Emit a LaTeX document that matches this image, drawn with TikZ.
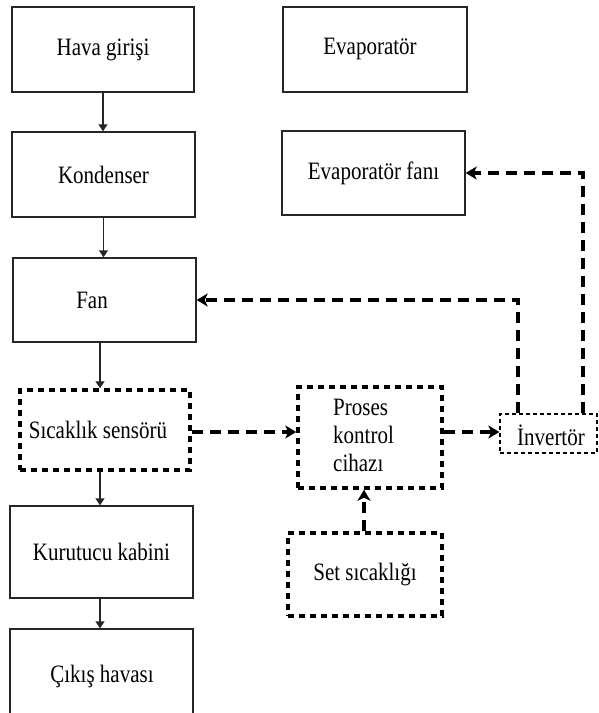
\documentclass[tikz,border=0pt]{standalone}
\usepackage{fontspec}
\setmainfont{Liberation Serif}[FakeStretch=0.84]
\usetikzlibrary{arrows.meta}
\begin{document}
\begin{tikzpicture}[x=1pt,y=-1pt,
  font=\fontsize{25}{28}\selectfont,
  box/.style={draw=black!85, line width=1.4pt, inner sep=0pt, anchor=center},
  dotbox/.style={draw=black, line width=3.5pt, dash pattern=on 6pt off 5pt, inner sep=0pt, anchor=center},
  thinbox/.style={draw=black, line width=1.3pt, dash pattern=on 4pt off 3pt, inner sep=0pt, anchor=center},
  txt/.style={inner sep=0pt, anchor=center},
  solidarrow/.style={draw=black!85, line width=1.4pt, -{Triangle[length=7pt,width=9pt]}},
  dasharrow/.style={draw=black, line width=4pt, dash pattern=on 11pt off 7pt, -{Stealth[length=11pt,width=13pt,inset=3pt]}}
]
\clip (0,0) rectangle (598,713);
% boxes
\node[box, minimum width=182pt, minimum height=85pt] (hava) at (103,49.5) {Hava girişi};
\node[box, minimum width=183pt, minimum height=85pt] (kond) at (103.5,174.5) {Kondenser};
\node[box, minimum width=184pt, minimum height=85pt] (evap) at (375,49.5) {};
\node[txt] (evaptxt) at (370,49) {Evaporatör};
\node[box, minimum width=183pt, minimum height=84pt] (evapfan) at (373.5,173) {Evaporatör fanı};
\node[box, minimum width=183pt, minimum height=84pt] (fan) at (104.5,300) {};
\node[txt] (fantxt) at (92,300) {Fan};
\node[dotbox, minimum width=170pt, minimum height=80pt] (sens) at (105,430) {};
\node[txt] (senstxt) at (98,430) {Sıcaklık sensörü};
\node[dotbox, minimum width=144pt, minimum height=101pt] (proses) at (370,437.5) {};
\node[txt, anchor=west, align=left] (prosestxt) at (333,435) {Proses\\kontrol\\cihazı};
\node[thinbox, minimum width=97pt, minimum height=39pt] (inv) at (548.5,433.5) {};
\node[txt] (invtxt) at (551,435) {İnvertör};
\node[dotbox, minimum width=154pt, minimum height=83pt] (setn) at (365,574.5) {Set sıcaklığı};
\node[box, minimum width=183pt, minimum height=92pt] (kurut) at (101.5,552) {Kurutucu kabini};
\node[box, minimum width=183pt, minimum height=91pt] (cikis) at (101.5,674.5) {};
\node[txt] (cikistxt) at (102,676) {Çıkış havası};
% helper coordinates
\coordinate (cx) at (100,0);
\coordinate (ly) at (0,432);
\coordinate (ax1) at (518,0);
\coordinate (ax2) at (583,0);
\coordinate (ax3) at (364,0);
% solid connectors
\draw[solidarrow] (hava.south) -- (kond.north -| hava.south);
\draw[solidarrow] (kond.south) -- (fan.north -| kond.south);
\draw[solidarrow] (fan.south -| cx) -- (sens.north -| cx);
\draw[solidarrow] (sens.south -| cx) -- (kurut.north -| cx);
\draw[solidarrow] (kurut.south -| cx) -- (cikis.north -| cx);
% dashed connectors
\draw[dasharrow] (sens.east |- ly) -- (proses.west |- ly);
\draw[dasharrow] (proses.east |- ly) -- (inv.west |- ly);
\draw[dasharrow] (inv.north -| ax1) |- (fan.east);
\draw[dasharrow] (inv.north -| ax2) |- (evapfan.east);
\draw[dasharrow] (setn.north -| ax3) -- (proses.south -| ax3);
\end{tikzpicture}
\end{document}
